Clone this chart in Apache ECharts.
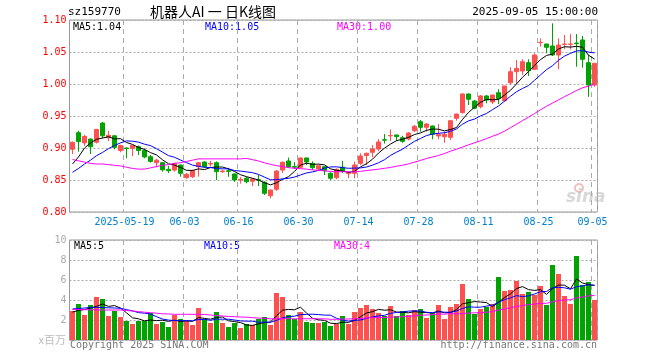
<!DOCTYPE html>
<html><head><meta charset="utf-8">
<script src="https://cdn.jsdelivr.net/npm/echarts/dist/echarts.min.js"></script>
<style>html,body{margin:0;padding:0;background:#fff}#c{width:660px;height:360px}</style>
</head><body><div id="c"></div>
<script>
// ---- data ----
const dates = ['2025-05-06','2025-05-07','2025-05-08','2025-05-09','2025-05-12','2025-05-13','2025-05-14','2025-05-15','2025-05-16','2025-05-19',
'2025-05-20','2025-05-21','2025-05-22','2025-05-23','2025-05-26','2025-05-27','2025-05-28','2025-05-29','2025-05-30','2025-06-03',
'2025-06-04','2025-06-05','2025-06-06','2025-06-09','2025-06-10','2025-06-11','2025-06-12','2025-06-13','2025-06-16','2025-06-17',
'2025-06-18','2025-06-19','2025-06-20','2025-06-23','2025-06-24','2025-06-25','2025-06-26','2025-06-27','2025-06-30','2025-07-01',
'2025-07-02','2025-07-03','2025-07-04','2025-07-07','2025-07-08','2025-07-09','2025-07-10','2025-07-11','2025-07-14','2025-07-15',
'2025-07-16','2025-07-17','2025-07-18','2025-07-21','2025-07-22','2025-07-23','2025-07-24','2025-07-25','2025-07-28','2025-07-29',
'2025-07-30','2025-07-31','2025-08-01','2025-08-04','2025-08-05','2025-08-06','2025-08-07','2025-08-08','2025-08-11','2025-08-12',
'2025-08-13','2025-08-14','2025-08-15','2025-08-18','2025-08-19','2025-08-20','2025-08-21','2025-08-22','2025-08-25','2025-08-26',
'2025-08-27','2025-08-28','2025-08-29','2025-09-01','2025-09-02','2025-09-03','2025-09-04','2025-09-05'];

const opens = [0.898,0.924,0.908,0.914,0.909,0.939,0.916,0.919,0.896,0.900,
0.8995,0.902,0.896,0.8864,0.877,0.877,0.8667,0.8656,0.8734,0.8536,
0.8552,0.8708,0.8781,0.8750,0.877,0.8630,0.8645,0.8594,0.8500,0.8527,
0.848,0.8505,0.8464,0.8255,0.8355,0.8656,0.8797,0.871,0.8698,0.8844,
0.876,0.8672,0.8708,0.8605,0.8536,0.870,0.860,0.8605,0.876,0.8883,
0.8933,0.8984,0.9128,0.9190,0.9203,0.9160,0.9141,0.927,0.9411,0.9323,
0.9344,0.9188,0.9177,0.9167,0.9464,0.9552,0.9844,0.9734,0.9645,0.9813,
0.9719,0.9864,0.9739,1.002,1.0192,1.0203,1.0333,1.023,1.0645,1.0625,
1.0594,1.0453,1.0620,1.0620,1.0640,1.0688,1.0333,0.9984];

const closes = [0.909,0.910,0.918,0.902,0.929,0.919,0.920,0.901,0.904,0.899,
0.904,0.896,0.886,0.879,0.881,0.866,0.8645,0.876,0.8605,0.8589,
0.8645,0.877,0.8708,0.8760,0.863,0.8640,0.8635,0.8500,0.8510,0.8473,
0.8516,0.8495,0.8292,0.8344,0.864,0.8777,0.8708,0.870,0.8844,0.8781,
0.8692,0.8723,0.8645,0.8527,0.8667,0.864,0.861,0.8734,0.8875,0.8917,
0.8984,0.9094,0.9122,0.9195,0.9177,0.9104,0.9234,0.934,0.9323,0.9375,
0.9214,0.9214,0.9214,0.9427,0.9531,0.9844,0.9761,0.962,0.9813,0.975,
0.9828,0.9773,0.9969,1.0192,1.0245,1.0348,1.0208,1.0453,1.0650,1.0573,
1.0453,1.0609,1.0625,1.0625,1.0630,1.0386,0.9984,1.0323];

const lows = [0.8906,0.8942,0.9036,0.8906,0.907,0.9152,0.9109,0.898,0.8933,0.8839,
0.8875,0.889,0.8839,0.877,0.8698,0.863,0.861,0.863,0.8552,0.852,
0.853,0.8552,0.869,0.871,0.850,0.861,0.855,0.847,0.8445,0.8448,
0.8406,0.8406,0.8266,0.8214,0.833,0.861,0.869,0.867,0.868,0.8734,
0.866,0.865,0.8578,0.8496,0.851,0.861,0.8527,0.8527,0.8734,0.8734,
0.8855,0.895,0.907,0.911,0.911,0.908,0.912,0.925,0.9255,0.9255,
0.9136,0.9136,0.9083,0.9125,0.9427,0.954,0.9672,0.9605,0.962,0.9698,
0.9688,0.9688,0.972,0.9984,1.0,1.0141,1.0125,1.0219,1.0583,1.048,
1.0438,1.023,1.0542,1.054,1.027,1.0255,0.980,0.9958];

const highs = [0.910,0.927,0.9208,0.915,0.930,0.9406,0.9266,0.920,0.905,0.901,
0.905,0.904,0.8995,0.889,0.8833,0.878,0.872,0.877,0.874,0.861,
0.866,0.878,0.879,0.880,0.879,0.866,0.869,0.860,0.8545,0.8552,
0.8527,0.8578,0.848,0.835,0.8656,0.879,0.885,0.878,0.885,0.885,
0.879,0.873,0.872,0.862,0.868,0.880,0.8636,0.8786,0.8917,0.8927,
0.9047,0.9136,0.9219,0.929,0.9205,0.919,0.925,0.936,0.9438,0.9386,
0.935,0.9375,0.9255,0.943,0.9535,0.9855,0.985,0.975,0.9828,0.9828,
0.983,0.9917,0.997,1.0261,1.0375,1.0386,1.0386,1.048,1.0714,1.0628,
1.0948,1.0714,1.0766,1.078,1.078,1.075,1.0453,1.0325];

// volume, millions
const volumes = [2.9,3.6,2.5,3.5,4.3,4.1,2.4,2.9,2.3,1.9,
1.6,1.9,1.9,2.7,1.6,1.8,1.3,2.5,2.1,1.9,
1.5,3.2,2.1,1.7,2.8,1.7,1.3,1.7,1.2,1.6,
1.5,2.1,2.3,1.5,4.7,4.3,2.5,2.1,2.8,1.8,
1.7,1.7,1.8,1.4,1.6,2.4,1.6,2.8,3.2,3.5,
3.1,2.7,2.4,3.4,2.4,2.9,2.5,3.0,3.1,2.2,
2.7,3.5,2.1,3.3,3.6,5.6,4.1,2.6,3.1,3.3,
3.6,6.3,4.9,5.0,5.9,4.6,4.8,4.5,5.4,3.5,
7.5,6.6,4.4,3.6,8.4,5.5,5.8,4.0];

// moving-average values at the left edge (their windows start before the visible range)
const ma5Head  = [0.875,0.886,0.900,0.908];
const ma10Head = [0.862,0.868,0.875,0.881,0.888,0.893,0.899,0.904,0.908];
const ma30Head = [0.882,0.880,0.878,0.876,0.875,0.875,0.874,0.873,0.872,0.870,
0.868,0.867,0.867,0.869,0.871,0.873,0.874,0.876,0.877,0.879,
0.881,0.883,0.883,0.883,0.883,0.883,0.883,0.883,0.883];
const vma5Head  = [2.8,2.95,3.05,3.2];
const vma10Head = [3.1,3.15,3.2,3.25,3.27,3.25,3.22,3.2,3.17];
const vma30Head = [3.05,3.05,3.03,3.02,3.02,3.0,3.0,3.0,3.0,2.95,
2.9,2.85,2.78,2.73,2.68,2.62,2.6,2.57,2.57,2.57,
2.57,2.57,2.55,2.5,2.45,2.4,2.35,2.33,2.3];

const labelDates = ['2025-05-19','2025-06-03','2025-06-16','2025-06-30','2025-07-14','2025-07-28','2025-08-11','2025-08-25','2025-09-05'];
const priceTicks = {min:0.80, max:1.10, step:0.05};
const volTicks = {min:0, max:10, step:2};

// ---- helpers ----
function movingAvg(vals, n, head){
  return vals.map((v,i)=>{
    if(i < n-1) return head[i];
    let s=0; for(let k=i-n+1;k<=i;k++) s+=vals[k];
    return +(s/n).toFixed(4);
  });
}
const ma5 = movingAvg(closes,5,ma5Head), ma10 = movingAvg(closes,10,ma10Head), ma30 = movingAvg(closes,30,ma30Head);
const vma5 = movingAvg(volumes,5,vma5Head), vma10 = movingAvg(volumes,10,vma10Head), vma30 = movingAvg(volumes,30,vma30Head);

const UP='#ff5050', DOWN='#00a300';
const MONO='"DejaVu Sans Mono","Liberation Mono",monospace';
const GRIDC='#aaaaaa';
const isLabel = (i,v)=> labelDates.indexOf(v) >= 0;

const chart = echarts.init(document.getElementById('c'), null, {renderer:'canvas'});
const last = a => a[a.length-1];

const option = {
  animation:false,
  backgroundColor:'#fff',
  grid:[
    {left:69.5, top:20, width:528, height:192, show:true, borderColor:'#999', borderWidth:1, backgroundColor:'transparent'},
    {left:69.5, top:240, width:528, height:100, show:true, borderColor:'#999', borderWidth:1, backgroundColor:'transparent'}
  ],
  xAxis:[
    {type:'category', gridIndex:0, data:dates, boundaryGap:true,
     axisLine:{show:false}, axisTick:{show:false},
     axisLabel:{interval:isLabel, margin:5, color:'#0080d0', fontFamily:MONO, fontSize:10, padding:[0,4,0,0],
       formatter:(v)=> v===labelDates[0] ? v : v.slice(5)},
     splitLine:{show:true, interval:isLabel, lineStyle:{color:GRIDC, type:[5,4], width:1}}},
    {type:'category', gridIndex:1, data:dates, boundaryGap:true,
     axisLine:{show:false}, axisTick:{show:false}, axisLabel:{show:false},
     splitLine:{show:true, interval:isLabel, lineStyle:{color:GRIDC, type:[5,4], width:1}}}
  ],
  yAxis:[
    {type:'value', gridIndex:0, min:priceTicks.min, max:priceTicks.max, interval:priceTicks.step, scale:true,
     axisLine:{show:false}, axisTick:{show:false},
     axisLabel:{color:'#ff0000', fontFamily:MONO, fontSize:10, margin:3, showMinLabel:true, showMaxLabel:true,
       formatter:(v)=>v.toFixed(2)},
     splitLine:{show:true, lineStyle:{color:GRIDC, type:[2,2], width:1}}},
    {type:'value', gridIndex:1, min:volTicks.min, max:volTicks.max, interval:volTicks.step,
     axisLine:{show:false}, axisTick:{show:false},
     axisLabel:{color:'#aaaaaa', fontFamily:MONO, fontSize:10, margin:3, showMaxLabel:true,
       formatter:(v)=> v===0 ? '' : String(v)},
     splitLine:{show:true, lineStyle:{color:GRIDC, type:[2,2], width:1}}}
  ],
  series:[
    {type:'candlestick', xAxisIndex:0, yAxisIndex:0, barWidth:5,
     data: dates.map((d,i)=>[opens[i],closes[i],lows[i],highs[i]]),
     itemStyle:{color:UP, color0:DOWN, borderColor:UP, borderColor0:DOWN, borderWidth:1}},
    {type:'line', xAxisIndex:0, yAxisIndex:0, data:ma5, showSymbol:false, symbol:'none', lineStyle:{color:'#000', width:1}},
    {type:'line', xAxisIndex:0, yAxisIndex:0, data:ma10, showSymbol:false, symbol:'none', lineStyle:{color:'#0000ff', width:1}},
    {type:'line', xAxisIndex:0, yAxisIndex:0, data:ma30, showSymbol:false, symbol:'none', lineStyle:{color:'#ff00ff', width:1}},
    {type:'bar', xAxisIndex:1, yAxisIndex:1, barWidth:5,
     data: volumes.map((v,i)=>({value:v, itemStyle:{color: closes[i]>=opens[i]?UP:DOWN}}))},
    {type:'line', xAxisIndex:1, yAxisIndex:1, data:vma5, showSymbol:false, symbol:'none', lineStyle:{color:'#000', width:1}},
    {type:'line', xAxisIndex:1, yAxisIndex:1, data:vma10, showSymbol:false, symbol:'none', lineStyle:{color:'#0000ff', width:1}},
    {type:'line', xAxisIndex:1, yAxisIndex:1, data:vma30, showSymbol:false, symbol:'none', lineStyle:{color:'#ff00ff', width:1}}
  ],
  graphic:[
    {type:'text', left:68, top:7, style:{text:'sz159770', fill:'#000', font:'11px '+MONO}},
    {type:'text', left:150, top:5, style:{text:'机器人AI 一 日K线图', fill:'#000', font:'14px "Noto Sans CJK SC"'}},
    {type:'text', right:62, top:7, style:{text:'2025-09-05 15:00:00', fill:'#000', font:'11px '+MONO}},
    {type:'text', left:73, top:22, style:{text:'MA5:'+last(ma5).toFixed(2), fill:'#000', font:'10px '+MONO}},
    {type:'text', left:205, top:22, style:{text:'MA10:'+last(ma10).toFixed(2), fill:'#0000ff', font:'10px '+MONO}},
    {type:'text', left:337, top:22, style:{text:'MA30:'+last(ma30).toFixed(2), fill:'#ff00ff', font:'10px '+MONO}},
    {type:'text', left:74, top:241, style:{text:'MA5:'+Math.round(last(vma5)), fill:'#000', font:'10px '+MONO}},
    {type:'text', left:204, top:241, style:{text:'MA10:'+Math.round(last(vma10)), fill:'#0000ff', font:'10px '+MONO}},
    {type:'text', left:334, top:241, style:{text:'MA30:'+Math.round(last(vma30)), fill:'#ff00ff', font:'10px '+MONO}},
    {type:'text', right:594, top:334, style:{text:'x百万', fill:'#bbbbbb', font:'11px "Noto Sans CJK SC"'}},
    {type:'text', left:70, top:340, style:{text:'Copyright 2025 SINA.COM', fill:'#777', font:'10px '+MONO}},
    {type:'text', right:63, top:340, style:{text:'http://finance.sina.com.cn', fill:'#777', font:'10px '+MONO}},
    {type:'circle', shape:{cx:579, cy:188, r:4}, style:{fill:'none', stroke:'rgba(230,150,150,0.6)', lineWidth:2}},
    {type:'text', left:566, top:189, style:{text:'sina', fill:'rgba(190,190,190,0.6)', font:'italic bold 17px "DejaVu Sans"'}}
  ]
};
chart.setOption(option);
</script></body></html>
